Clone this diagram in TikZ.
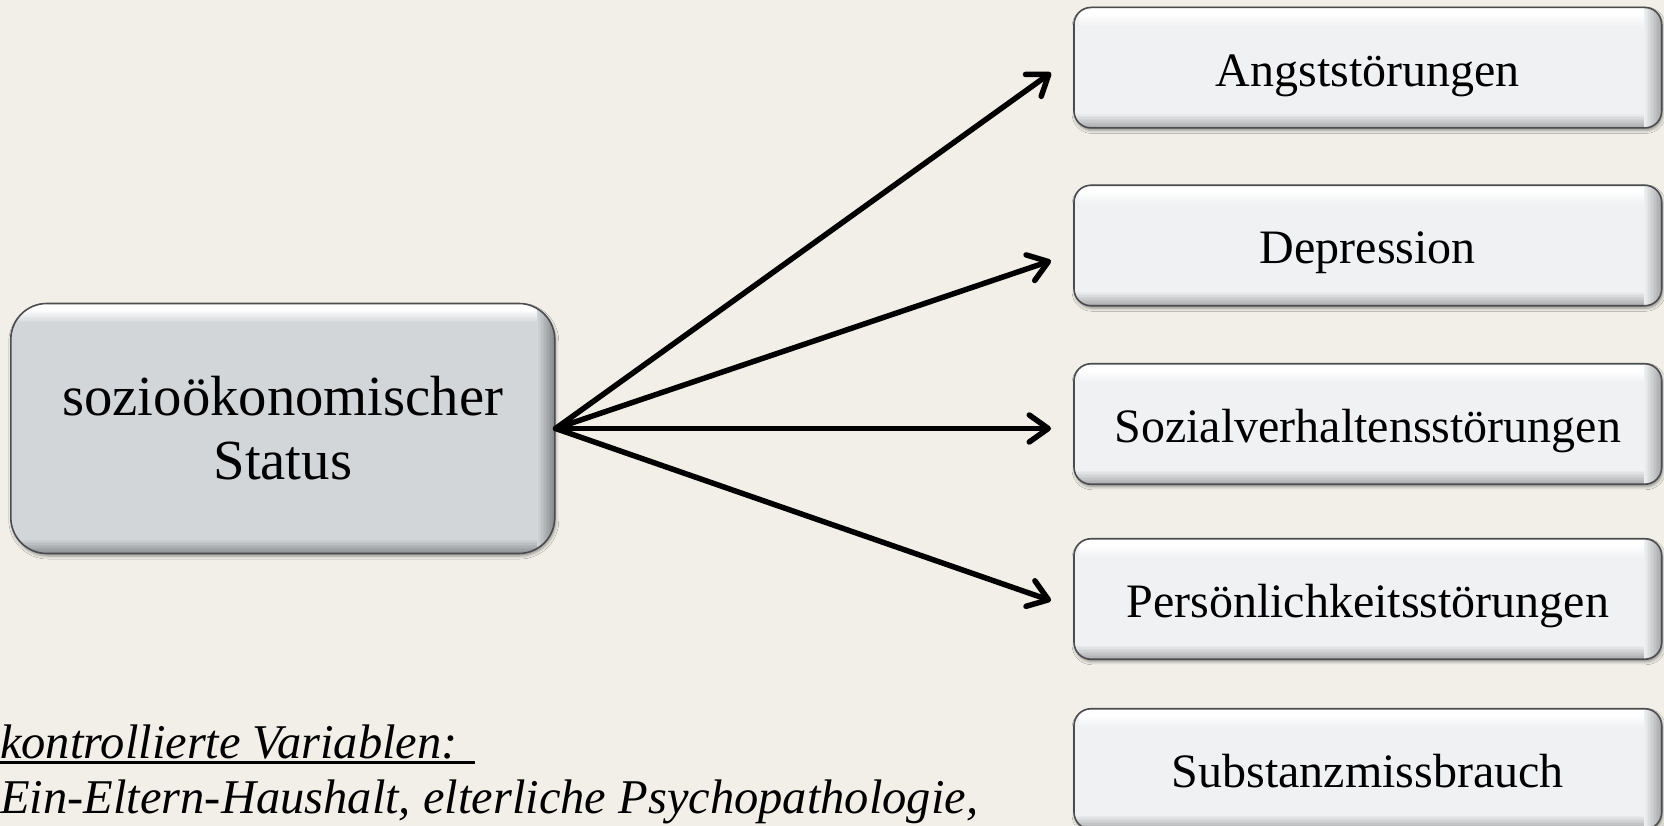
\documentclass[tikz,border=0pt]{standalone}
\usepackage{fontspec}
\setmainfont{Liberation Serif}
\usetikzlibrary{arrows.meta,shadows.blur,calc}

\definecolor{bgc}{HTML}{F2EFE8}
\definecolor{maingray}{HTML}{D3D6D9}
\definecolor{maindark}{HTML}{7E8184}
\definecolor{btnlight}{HTML}{F0F1F3}
\definecolor{btndark}{HTML}{9C9EA1}
\definecolor{rimc}{HTML}{4A4C4F}

\tikzset{
  % glossy bevelled button: #1 = face colour, #2 = shaded edge colour
  bevel/.style 2 args={
    draw=rimc, line width=1.6pt, fill=#1,
    blur shadow={shadow xshift=1pt, shadow yshift=-2.5pt,
                 shadow blur radius=3pt, shadow opacity=40},
    path picture={
      % light band along the top
      \foreach \k in {0,...,10}{
        \pgfmathtruncatemacro\pc{\k*10}
        \fill[sharp corners, white!\pc!#1]
          ([xshift=5pt]path picture bounding box.north west)
          rectangle ([xshift=-14pt, yshift=-20pt+\k*1.3pt]path picture bounding box.north east);
      }
      % darker band along the bottom
      \foreach \k in {0,...,9}{
        \pgfmathtruncatemacro\pc{\k*9}
        \fill[sharp corners, #2!\pc!#1]
          ([yshift=15pt-\k*1.5pt]path picture bounding box.south west)
          rectangle (path picture bounding box.south east);
      }
      % darker band along the right side
      \foreach \k in {0,...,11}{
        \pgfmathtruncatemacro\pc{\k*8}
        \fill[sharp corners, #2!\pc!#1]
          ([xshift=-18pt+\k*1.5pt]path picture bounding box.north east)
          rectangle (path picture bounding box.south east);
      }
    }},
  mainbox/.style={bevel={maingray}{maindark}, rounded corners=36pt,
    minimum width=544pt, minimum height=250pt, inner sep=0pt,
    align=center, font=\fontsize{56.7}{64}\selectfont},
  outbox/.style={bevel={btnlight}{btndark}, rounded corners=17pt,
    minimum width=587.7pt, minimum height=120.5pt, inner sep=0pt,
    text height=37pt, text depth=0pt,
    font=\fontsize{48}{56}\selectfont},
  arr/.style={line width=5.5pt, line cap=round,
    -{Straight Barb[length=19pt, width=27pt, line cap=round, line join=round]}},
  note/.style={anchor=base west, inner sep=0pt,
    font=\fontsize{48.5}{55}\selectfont\itshape},
}

\begin{document}
\begin{tikzpicture}[x=1pt, y=-1pt]
  \fill[bgc] (0,0) rectangle (1664,826);
  \useasboundingbox (0,0) rectangle (1664,826);

  % cause
  \node[mainbox] (ses) at (282.8,428.5) {sozioökonomischer\\Status};

  % outcomes
  \node[outbox] (ang) at (1367.85,67.7)  {Angststörungen};
  \node[outbox] (dep) at (1367.85,245.5) {Depression};
  \node[outbox] (soz) at (1367.85,424)   {Sozialverhaltensstörungen};
  \node[outbox] (per) at (1367.85,599)   {Persönlichkeitsstörungen};
  \node[outbox] (sub) at (1367.85,769)   {Substanzmissbrauch};

  % arrow heads stop short of the boxes
  \coordinate (tAng) at (1051,72.7);
  \coordinate (tDep) at (1051,260.7);
  \coordinate (tSoz) at (1051,428.5);
  \coordinate (tPer) at (1051,600.7);

  \draw[arr] (ses.east) -- (tAng);
  \draw[arr] (ses.east) -- (tDep);
  \draw[arr] (ses.east) -- (tSoz);
  \draw[arr] (ses.east) -- (tPer);

  % controlled variables
  \node[note] (ctl) at (0,758) {kontrollierte Variablen:};
  \node[note] (cov) at (0,813) {Ein-Eltern-Haushalt, elterliche Psychopathologie,};
  \draw[line width=2.2pt] ([yshift=-4.5pt]ctl.base west) -- ++(475,0);
\end{tikzpicture}
\end{document}
